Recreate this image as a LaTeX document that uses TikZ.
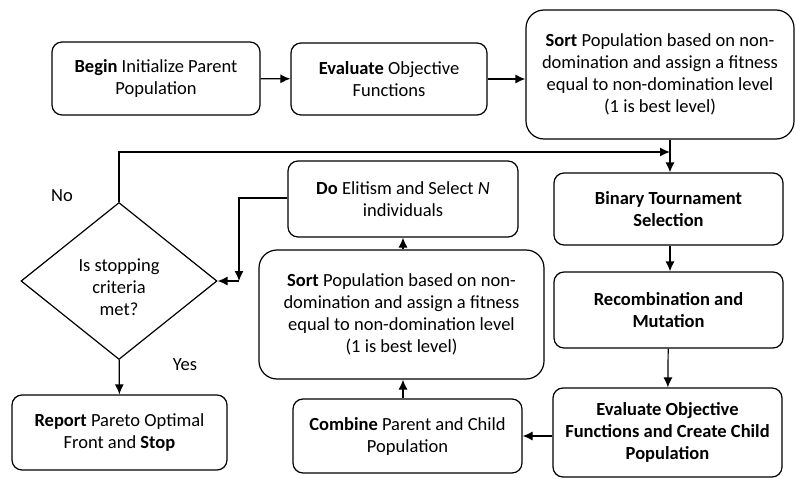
\documentclass[tikz,border=0pt]{standalone}
\usepackage{fontspec}
\setmainfont{Carlito}
\usetikzlibrary{shapes.geometric,arrows.meta}

\begin{document}
\begin{tikzpicture}[x=1pt,y=-1pt,>={Latex[length=10pt,width=9pt]},line width=1.2pt,
    box/.style={draw,rounded corners=10pt,align=center,inner sep=2pt,
        font=\fontsize{18.5}{22}\selectfont},
    dec/.style={draw,diamond,align=center,inner sep=0pt,
        font=\fontsize{18.5}{22}\selectfont}]
        \useasboundingbox (0,0) rectangle (796,479);
        \node[box,minimum width=208pt,minimum height=73pt] (A) at (156,78.5) {\textbf{Begin} Initialize Parent\\Population};
        \node[box,minimum width=196pt,minimum height=72pt] (B) at (389,79) {\textbf{Evaluate} Objective\\Functions};
        \node[box,rounded corners=18pt,minimum width=268pt,minimum height=129pt] (C) at (660,74.5) {\textbf{Sort} Population based on non-\\domination and assign a fitness\\equal to non-domination level\\(1 is best level)};
        \node[box,minimum width=229pt,minimum height=72pt] (D) at (668.5,209) {\textbf{Binary Tournament}\\\textbf{Selection}};
        \node[box,minimum width=229pt,minimum height=76pt] (E) at (668.5,310) {\textbf{Recombination and}\\\textbf{Mutation}};
        \node[box,minimum width=229pt,minimum height=89pt] (F) at (667.5,432.5) {\textbf{Evaluate Objective}\\\textbf{Functions and Create Child}\\\textbf{Population}};
        \node[box,minimum width=229pt,minimum height=74pt] (G) at (407.5,436) {\textbf{Combine} Parent and Child\\Population};
        \node[box,rounded corners=18pt,minimum width=285pt,minimum height=129pt] (H) at (401.5,314.5) {\textbf{Sort} Population based on non-\\domination and assign a fitness\\equal to non-domination level\\(1 is best level)};
        \node[box,minimum width=230pt,minimum height=76pt] (I) at (403,199) {\textbf{Do} Elitism and Select \textit{N}\\individuals};
        \node[dec,minimum width=196pt,minimum height=157pt] (J) at (119,281) {};
        \node[font=\fontsize{18.5}{22}\selectfont,align=center] (Jt) at (119,287) {Is stopping\\criteria\\met?};
        \node[box,minimum width=215pt,minimum height=75pt] (K) at (119.5,432.5) {\textbf{Report} Pareto Optimal\\Front and \textbf{Stop}};
        \node[font=\fontsize{18.5}{22}\selectfont] (no) at (62,196) {No};
        \node[font=\fontsize{18.5}{22}\selectfont] (yes) at (185,365) {Yes};
        \coordinate (M) at (670,152);
        \coordinate (P) at (239,198);
        \draw[->] (A) -- (B);
        \draw[->] (B) -- (B -| C.west);
        \draw[->] (C.south -| M) -- (D.north -| M);
        \draw[->] (J.north) |- (M);
        \draw[->] (D.south -| M) -- (E.north -| M);
        \draw[->] (E) -- (F);
        \draw[->] (F.west |- G) -- (G);
        \draw[->] (G.north -| I) -- (H.south -| I);
        \draw[->] (H.north -| I) -- (I);
        \draw[->] (I.west |- P) -- (P) -- (P |- J);
        \draw[->] (P |- J) -- (J.east);
        \draw[->] (J) -- (K);
    \end{tikzpicture}
\end{document}
